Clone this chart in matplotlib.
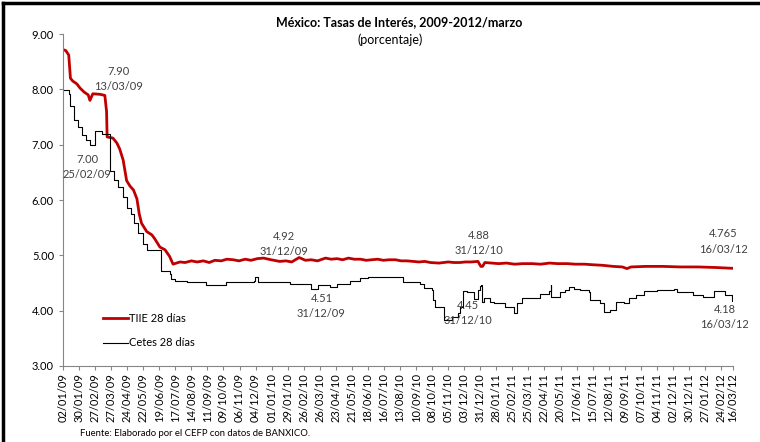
import numpy as np
import matplotlib
matplotlib.use("Agg")
import matplotlib.pyplot as plt
import matplotlib.dates as mdates
import pandas as pd

# TIIE 28 dias
tiie_dates = ["2009-01-02", "2009-01-07", "2009-01-12", "2009-01-15", "2009-01-19",
              "2009-01-26", "2009-02-01", "2009-02-08", "2009-02-15", "2009-02-18",
              "2009-02-23", "2009-03-08", "2009-03-16", "2009-03-19", "2009-03-20",
              "2009-03-30", "2009-04-06", "2009-04-11", "2009-04-17", "2009-04-23",
              "2009-04-29", "2009-05-05", "2009-05-11", "2009-05-15", "2009-05-19",
              "2009-05-28", "2009-06-06", "2009-06-11", "2009-06-20", "2009-06-29",
              "2009-07-07", "2009-07-13", "2009-07-25", "2009-08-03", "2009-08-14",
              "2009-08-24", "2009-09-04", "2009-09-14", "2009-09-24", "2009-10-05",
              "2009-10-15", "2009-10-26", "2009-11-05", "2009-11-16", "2009-11-26",
              "2009-12-07", "2009-12-18", "2009-12-31", "2010-01-15", "2010-01-26",
              "2010-02-05", "2010-02-18", "2010-03-01", "2010-03-11", "2010-03-22",
              "2010-04-05", "2010-04-15", "2010-04-25", "2010-05-05", "2010-05-15",
              "2010-05-25", "2010-06-05", "2010-06-15", "2010-06-25", "2010-07-05",
              "2010-07-15", "2010-07-25", "2010-08-05", "2010-08-15", "2010-08-25",
              "2010-09-05", "2010-09-15", "2010-09-25", "2010-10-05", "2010-10-20",
              "2010-11-05", "2010-11-15", "2010-11-25", "2010-12-05", "2010-12-15",
              "2010-12-27", "2011-01-01", "2011-01-04", "2011-01-08", "2011-01-20",
              "2011-02-01", "2011-02-15", "2011-03-01", "2011-03-15", "2011-04-01",
              "2011-04-15", "2011-05-01", "2011-05-15", "2011-06-01", "2011-06-15",
              "2011-07-01", "2011-07-15", "2011-08-01", "2011-08-20", "2011-09-05",
              "2011-09-13", "2011-09-20", "2011-10-15", "2011-11-15", "2011-12-15",
              "2012-01-15", "2012-02-15", "2012-03-16"]
tiie_vals = [8.72, 8.70, 8.62, 8.20, 8.15,
             8.10, 8.02, 7.95, 7.90, 7.80,
             7.92, 7.91, 7.89, 7.60, 7.14,
             7.12, 7.03, 6.92, 6.72, 6.35,
             6.25, 6.18, 6.02, 5.75, 5.58,
             5.43, 5.37, 5.30, 5.15, 5.10,
             4.98, 4.84, 4.88, 4.87, 4.90,
             4.88, 4.90, 4.87, 4.91, 4.90,
             4.93, 4.92, 4.90, 4.93, 4.91,
             4.94, 4.95, 4.92, 4.89, 4.90,
             4.88, 4.96, 4.91, 4.92, 4.90,
             4.95, 4.93, 4.94, 4.92, 4.95,
             4.93, 4.93, 4.91, 4.92, 4.93,
             4.91, 4.92, 4.92, 4.90, 4.90,
             4.89, 4.88, 4.89, 4.87, 4.86,
             4.88, 4.87, 4.87, 4.88, 4.88,
             4.89, 4.80, 4.80, 4.87, 4.86,
             4.85, 4.86, 4.84, 4.85, 4.85,
             4.84, 4.86, 4.85, 4.85, 4.84,
             4.84, 4.83, 4.82, 4.80, 4.79,
             4.76, 4.79, 4.80, 4.80, 4.79,
             4.79, 4.78, 4.765]

# Cetes 28 dias (step values)
cetes_dates = ["2009-01-02", "2009-01-12", "2009-01-15", "2009-01-21", "2009-01-29",
               "2009-02-05", "2009-02-11", "2009-02-18", "2009-02-27", "2009-03-11",
               "2009-03-25", "2009-04-01", "2009-04-08", "2009-04-16", "2009-04-23",
               "2009-04-30", "2009-05-06", "2009-05-13", "2009-05-21", "2009-05-28",
               "2009-06-22", "2009-07-07", "2009-07-10", "2009-07-16", "2009-08-06",
               "2009-09-08", "2009-10-13", "2009-12-01", "2009-12-03", "2009-12-09",
               "2010-02-02", "2010-03-11", "2010-03-23", "2010-04-13", "2010-04-25",
               "2010-05-18", "2010-06-04", "2010-06-18", "2010-08-01", "2010-08-18",
               "2010-09-17", "2010-09-24", "2010-10-08", "2010-10-10", "2010-10-13",
               "2010-10-29", "2010-11-12", "2010-11-22", "2010-11-26", "2010-12-01",
               "2010-12-08", "2010-12-20", "2010-12-27", "2010-12-30", "2011-01-01",
               "2011-01-03", "2011-01-07", "2011-01-17", "2011-01-24", "2011-02-12",
               "2011-02-27", "2011-03-05", "2011-03-13", "2011-04-14", "2011-04-30",
               "2011-05-03", "2011-05-04", "2011-05-19", "2011-05-28", "2011-06-03",
               "2011-06-12", "2011-06-23", "2011-07-08", "2011-07-11", "2011-07-28",
               "2011-08-04", "2011-08-15", "2011-08-24", "2011-09-07", "2011-09-16",
               "2011-09-28", "2011-10-12", "2011-11-05", "2011-12-04", "2011-12-10",
               "2012-01-07", "2012-01-24", "2012-02-11", "2012-03-02", "2012-03-15",
               "2012-03-16"]
cetes_vals = [7.99, 7.92, 7.70, 7.45, 7.32,
              7.17, 7.08, 7.00, 7.25, 7.19,
              6.53, 6.36, 6.24, 6.06, 5.85,
              5.74, 5.58, 5.40, 5.20, 5.09,
              4.72, 4.67, 4.58, 4.54, 4.51,
              4.47, 4.51, 4.53, 4.60, 4.51,
              4.49, 4.40, 4.46, 4.43, 4.48,
              4.54, 4.59, 4.61, 4.60, 4.52,
              4.49, 4.41, 4.37, 4.19, 4.06,
              3.84, 3.89, 3.95, 4.07, 4.36,
              4.34, 4.21, 4.37, 4.44, 4.46,
              4.16, 4.22, 4.16, 4.13, 4.06,
              3.95, 4.13, 4.22, 4.30, 4.35,
              4.46, 4.25, 4.34, 4.37, 4.43,
              4.40, 4.37, 4.34, 4.19, 4.14,
              3.98, 4.01, 4.16, 4.13, 4.22,
              4.28, 4.35, 4.37, 4.40, 4.34,
              4.28, 4.24, 4.36, 4.28, 4.18,
              4.18]

tiie = pd.Series(tiie_vals, index=pd.to_datetime(tiie_dates))
cetes = pd.Series(cetes_vals, index=pd.to_datetime(cetes_dates))

tick_dates = list(pd.date_range("2009-01-02", "2012-03-16", freq="28D")) + [pd.Timestamp("2012-03-16")]

# (text, x-date, y-value) for the callouts
notes = [("7.90\n13/03/09", "2009-04-09", 8.18),
         ("7.00\n25/02/09", "2009-02-13", 6.59),
         ("4.92\n31/12/09", "2010-01-22", 5.20),
         ("4.51\n31/12/09", "2010-03-29", 4.09),
         ("4.88\n31/12/10", "2010-12-28", 5.22),
         ("4.45\n31/12/10", "2010-12-09", 3.95),
         ("4.765\n16/03/12", "2012-02-28", 5.25),
         ("4.18\n16/03/12", "2012-03-01", 3.88)]

plt.rcParams['font.family'] = ['Lato', 'DejaVu Sans']
gray = '#868686'
txt = '#404040'

fig = plt.figure(figsize=(7.6, 4.42), dpi=100)
ax = fig.add_axes([0.0829, 0.172, 0.8816, 0.751])

ax.plot(tiie.index, tiie.values, color='#C00000', lw=2.0, label='TIIE 28 días')
ax.plot(cetes.index, cetes.values, color='black', lw=0.8, drawstyle='steps-post',
        label='Cetes 28 días')

ax.set_xlim(pd.Timestamp("2009-01-02"), pd.Timestamp("2012-03-16"))
ax.set_ylim(3, 9)
ax.set_yticks(np.arange(3, 9.01, 1))
ax.yaxis.set_major_formatter(matplotlib.ticker.FormatStrFormatter('%.2f'))
ax.set_xticks(tick_dates)
ax.xaxis.set_major_formatter(mdates.DateFormatter('%d/%m/%y'))
for lab in ax.get_xticklabels():
    lab.set_rotation(90)
ax.tick_params(axis='both', labelsize=8, colors=gray, labelcolor='black',
               length=3, width=0.8, direction='out')
ax.tick_params(axis='x', pad=2)
for s in ['top', 'right']:
    ax.spines[s].set_visible(False)
for s in ['left', 'bottom']:
    ax.spines[s].set_color(gray)
    ax.spines[s].set_linewidth(0.8)

for t, d, v in notes:
    ax.text(pd.Timestamp(d), v, t, ha='center', va='center', fontsize=8,
            color=txt, linespacing=1.45)

ax.legend(loc='center left', bbox_to_anchor=(0.045, 0.107), frameon=False,
          fontsize=8, handlelength=2.2, handletextpad=0.15, labelspacing=1.25)

fig.text(0.525, 0.95, 'México: Tasas de Interés, 2009-2012/marzo', ha='center',
         va='center', fontsize=9, fontweight='bold')
fig.text(0.513, 0.909, '(porcentaje)', ha='center', va='center', fontsize=9)
fig.text(0.105, 0.02, 'Fuente: Elaborado por el CEFP con datos de BANXICO.',
         fontsize=6.8, va='center')

# border on the top and left edges
fig.add_artist(plt.Line2D([0.004, 1], [0.993, 0.993], color='black', lw=2.5,
                          transform=fig.transFigure))
fig.add_artist(plt.Line2D([0.004, 0.004], [0, 0.993], color='black', lw=2.5,
                          transform=fig.transFigure))

fig.savefig('out.png', dpi=100)
